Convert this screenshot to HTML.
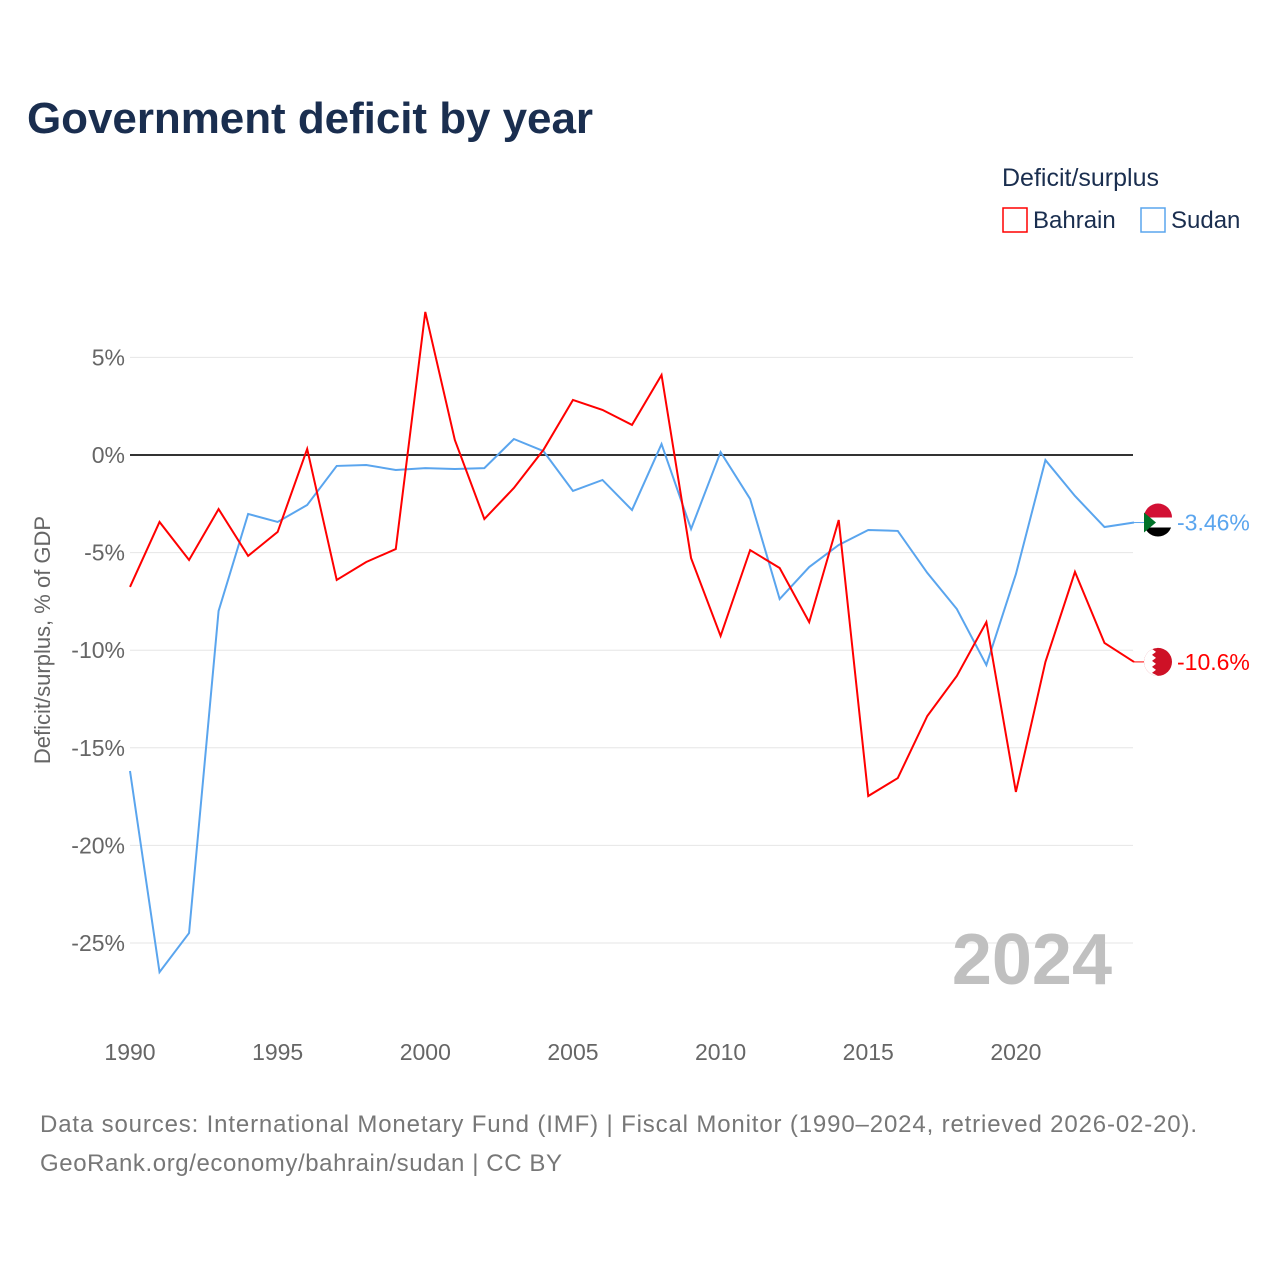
<!DOCTYPE html>
<html><head><meta charset="utf-8"><style>
body{margin:0;background:#fff;font-family:"Liberation Sans",sans-serif;}
svg{display:block}
</style></head><body>
<svg width="1280" height="1280" viewBox="0 0 1280 1280">
<text x="27" y="133" font-size="44" font-weight="bold" fill="#1a2e4f" textLength="566">Government deficit by year</text>
<text x="1002" y="186" font-size="25" fill="#1a2e4f">Deficit/surplus</text>
<g><rect x="1003" y="208" width="24" height="24" fill="none" stroke="#ff0000" stroke-width="1.5"/><text x="1033" y="228" font-size="24" fill="#1a2e4f">Bahrain</text></g>
<g><rect x="1141" y="208" width="24" height="24" fill="none" stroke="#5aa5ee" stroke-width="1.5"/><text x="1171" y="228" font-size="24" fill="#1a2e4f">Sudan</text></g>
<g id="grid"></g>
<g id="yticks"></g>
<g id="xticks"></g>
<text x="1112" y="984" font-size="72" font-weight="bold" fill="#c0c0c0" text-anchor="end">2024</text>
<text transform="translate(50,640) rotate(-90)" font-size="22" fill="#666" text-anchor="middle">Deficit/surplus, % of GDP</text>
<g id="series"></g>
<text x="40" y="1132" font-size="24" fill="#777" textLength="1157">Data sources: International Monetary Fund (IMF) | Fiscal Monitor (1990–2024, retrieved 2026-02-20).</text>
<text x="40" y="1171" font-size="24" fill="#777" textLength="522">GeoRank.org/economy/bahrain/sudan | CC BY</text>
</svg>
<script>
const years=[];for(let y=1990;y<=2024;y++)years.push(y);
const bahrain=[-6.76,-3.43,-5.38,-2.77,-5.17,-3.94,0.31,-6.4,-5.48,-4.82,7.33,0.77,-3.28,-1.69,0.26,2.82,2.31,1.54,4.1,-5.28,-9.27,-4.87,-5.79,-8.56,-3.33,-17.47,-16.55,-13.37,-11.32,-8.56,-17.26,-10.6,-5.99,-9.63,-10.6];
const sudan=[-16.19,-26.49,-24.49,-7.99,-3.02,-3.43,-2.56,-0.56,-0.51,-0.77,-0.67,-0.72,-0.67,0.82,0.2,-1.84,-1.28,-2.82,0.56,-3.79,0.15,-2.25,-7.38,-5.74,-4.61,-3.84,-3.89,-6.04,-7.89,-10.76,-6.1,-0.26,-2.1,-3.69,-3.46];
const yTicks=[5,0,-5,-10,-15,-20,-25];
const xTicks=[1990,1995,2000,2005,2010,2015,2020];
const NS="http://www.w3.org/2000/svg";
const X=y=>130+(y-1990)*29.53;
const Y=v=>455-v*19.52;
function mk(tag,attrs,parent,text){const e=document.createElementNS(NS,tag);for(const k in attrs)e.setAttribute(k,attrs[k]);if(text!=null)e.textContent=text;parent.appendChild(e);return e;}
const grid=document.getElementById('grid'),yt=document.getElementById('yticks'),xt=document.getElementById('xticks'),ser=document.getElementById('series');
yTicks.forEach(v=>{
 const l=mk('line',{x1:130,x2:1133,y1:Y(v),y2:Y(v),stroke:v===0?'#333':'#e6e6e6','stroke-width':v===0?2:1},grid);
 
 
 const t=mk('text',{x:125,y:Y(v)+8,'font-size':23,fill:'#666','text-anchor':'end'},yt,v+'%');
 
 
});
xTicks.forEach(y=>{
 const t=mk('text',{x:X(y),y:1060,'font-size':23,fill:'#666','text-anchor':'middle'},xt,String(y));
 
 
});
function line(data,color,name,label){
 const p=mk('polyline',{points:data.map((v,i)=>X(years[i])+','+Y(v)).join(' '),fill:'none',stroke:color,'stroke-width':2},ser);
 
 
 const last=data[data.length-1],ly=Y(last);
 mk('line',{x1:X(2024),x2:1144,y1:ly,y2:ly,stroke:color,'stroke-width':1},ser);
 const c=mk('circle',{cx:1158,cy:ly,r:14,fill:name==='bahrain'?'#ce1126':'#000'},ser);
 
 
 if(name==='sudan'){mk('path',{d:`M1144,${ly-5} h28 v10 h-28z`,fill:'#fff'},ser);mk('path',{d:`M1144,${ly-5} A14,14 0 0 1 1172,${ly-5}z`,fill:'#d21034'},ser);mk('path',{d:`M1144,${ly-10} L1156,${ly} L1144,${ly+10}z`,fill:'#007229'},ser);}
 else{mk('path',{d:`M1158,${ly-14} A14,14 0 0 0 1158,${ly+14} l-6,-3 4,-3 -4,-3 4,-3 -4,-3 4,-3 -4,-3 4,-3 -4,-3z`,fill:'#fff'},ser);}
 const t=mk('text',{x:1177,y:ly+8,'font-size':23,fill:color},ser,label);
 
 
}
line(sudan,'#5aa5ee','sudan','-3.46%');
line(bahrain,'#ff0000','bahrain','-10.6%');
</script>
</body></html>
